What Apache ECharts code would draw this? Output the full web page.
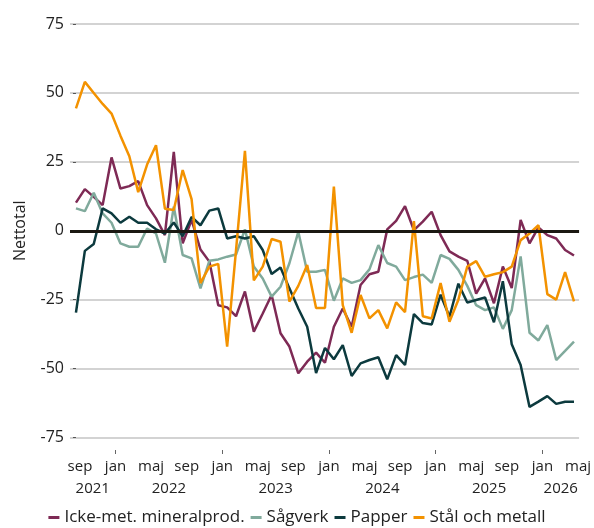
<!DOCTYPE html>
<html lang="sv">
<head>
<meta charset="UTF-8">
<title>Nettotal</title>
<script src="https://cdn.jsdelivr.net/npm/echarts@6/dist/echarts.min.js"></script>
<style>
    html, body { margin: 0; padding: 0; background: #fff; }
    #main { width: 594px; height: 528px; }
</style>
</head>
<body>
<div id="main"></div>
<script>
// manadsdata, sep 2021 - maj 2026
var monthNames = ['jan','feb','mar','apr','maj','jun','jul','aug','sep','okt','nov','dec'];
var firstYear = 2021, firstMonth = 8;
var seriesNames = ['Icke-met. mineralprod.', 'Sågverk', 'Papper', 'Stål och metall'];

var mineral = [10.2, 15.1, 12.3, 9.3, 26.6, 15.3, 16.2, 18, 9.3, 4.5, -1.6, 28.6, -4.6, 3.9, -6.8, -11.2, -27, -27.8, -31, -22,
    -36.6, -30, -23.3, -37.2, -42, -51.7, -47.5, -44.2, -47.9, -34.8, -28.2, -34.8, -19.7, -15.8, -14.9, 0.5, 3.6, 8.9, 0.2, 3.3,
    6.9, -1.6, -7.5, -9.4, -10.9, -22.8, -17.3, -26.3, -13, -20.8, 3.9, -4.6, 1.2, -1.6, -2.8, -7, -9];
var sagverk = [8.1, 7.1, 13.8, 6.3, 2.9, -4.6, -5.8, -5.8, 0.8, -1, -11.6, 8.7, -8.8, -10, -20.9, -10.9, -10.4, -9.4, -8.6, 0.5,
    -13, -17.3, -23.9, -20.3, -11.8, -0.4, -14.9, -14.9, -14.2, -25.4, -17.3, -18.9, -17.9, -14, -5.2, -11.7, -13, -17.9, -16.8, -15.9,
    -18.9, -8.8, -10.2, -14.2, -20, -27, -28.8, -27.8, -35.6, -28.8, -9.3, -37, -39.8, -34.2, -46.9, -43.6, -40.2];
var papper = [-29.7, -7.3, -4.8, 8.1, 6.3, 2.9, 5.1, 2.9, 2.9, 0.5, -1, 3, -2, 5, 2, 7.3, 8.1, -2.8, -2, -2.8,
    -2, -7, -15.7, -13.3, -20.9, -28.2, -34.8, -51.6, -42.5, -46.6, -41.5, -52.7, -48.1, -46.9, -45.9, -53.9, -45.1, -48.7, -30.2, -33.5,
    -34, -23.2, -31.2, -19.2, -26, -25.1, -24.2, -33.2, -18.3, -41.2, -48.7, -63.9, -62, -60, -62.8, -62, -62];
var stal = [44.4, 54, 50, 46, 42.5, 34.5, 27, 14, 24, 31, 8, 7.5, 22, 11.5, -19, -13, -12, -42, -7, 29,
    -18, -13, -3, -4, -25.7, -20, -12.4, -28, -28, 16, -27, -37, -23.3, -31.8, -28.8, -35.4, -26, -29.5, 3.5, -31,
    -31.8, -19, -33, -25, -13, -11, -16.7, -15.8, -15, -13, -3.4, -1, 2, -23, -25, -15, -25.6];

var colors = ['#7e2a55', '#80aa9c', '#0c3a3e', '#f39200'];
var fontName = 'Open Sans';

// x-axeln: manadsindex, etiketterna ligger en halv manad till hoger om punkterna
var xMin = -0.67, xMax = 56.57, tickShift = 0.45;
var months = mineral.map(function (v, i) {
    var m = firstMonth + i;
    return { name: monthNames[m % 12], year: firstYear + Math.floor(m / 12), mon: m % 12 };
});

var tickAt = [], tickText = {};
var janAt = [], yearAt = [], yearText = {};
months.forEach(function (m, i) {
    var p = i + tickShift;
    if (i % 4 === 0) {
        tickAt.push(p);
        tickText[p.toFixed(2)] = m.name;
    }
    if (m.mon === 0) janAt.push(p);
});
// arsetiketten i mitten av arets synliga del
var bounds = [xMin].concat(janAt).concat([xMax]);
for (var k = 0; k < bounds.length - 1; k++) {
    var mid = (bounds[k] + bounds[k + 1]) / 2;
    yearAt.push(mid);
    yearText[mid.toFixed(2)] = String(firstYear + k);
}

function toPairs(arr) {
    return arr.map(function (v, i) { return [i, v]; });
}

var chart = echarts.init(document.getElementById('main'));
var option = {
    animation: false,
    textStyle: { fontFamily: fontName },
    grid: { left: 70, right: 14, top: 24, bottom: 90.5 },
    legend: {
        top: 504,
        left: 'center',
        icon: 'rect',
        itemWidth: 11,
        itemHeight: 3,
        itemGap: 6,
        textStyle: { fontSize: 17, color: '#222', fontFamily: fontName },
        data: seriesNames
    },
    xAxis: [
        {
            type: 'value',
            min: xMin,
            max: xMax,
            position: 'bottom',
            offset: 12.5,
            axisLine: { show: false },
            splitLine: { show: false },
            axisTick: { show: true, length: 2, customValues: tickAt, lineStyle: { color: '#666' } },
            axisLabel: {
                customValues: tickAt,
                margin: 9,
                fontSize: 15,
                color: '#222',
                formatter: function (v) { return tickText[v.toFixed(2)] || ''; }
            }
        },
        {
            type: 'value',
            min: xMin,
            max: xMax,
            position: 'bottom',
            offset: 12.5,
            axisLine: { show: false },
            splitLine: { show: false },
            axisTick: { show: true, length: 4, customValues: janAt, lineStyle: { color: '#666' } },
            axisLabel: {
                customValues: yearAt,
                margin: 31,
                fontSize: 15,
                color: '#222',
                formatter: function (v) { return yearText[v.toFixed(2)] || ''; }
            }
        }
    ],
    yAxis: {
        type: 'value',
        min: -75,
        max: 75,
        interval: 25,
        name: 'Nettotal',
        nameLocation: 'middle',
        nameGap: 42,
        nameTextStyle: { fontSize: 16, color: '#222' },
        axisLine: { show: false },
        axisTick: { show: true, length: 3, lineStyle: { color: '#555' } },
        axisLabel: { fontSize: 16, color: '#222', margin: 6 },
        splitLine: { lineStyle: { color: '#c4c4c4', width: 1.5 } }
    },
    series: [
        { name: seriesNames[0], data: toPairs(mineral), color: colors[0] },
        { name: seriesNames[1], data: toPairs(sagverk), color: colors[1] },
        { name: seriesNames[2], data: toPairs(papper), color: colors[2] },
        { name: seriesNames[3], data: toPairs(stal), color: colors[3] }
    ].map(function (s, idx) {
        s.type = 'line';
        s.xAxisIndex = 0;
        s.showSymbol = false;
        s.lineStyle = { width: 2.5 };
        if (idx === 0) {
            s.markLine = {
                silent: true,
                symbol: ['none', 'none'],
                label: { show: false },
                lineStyle: { color: '#1b1812', width: 2.8, type: 'solid' },
                data: [{ yAxis: 0 }]
            };
        }
        return s;
    })
};
chart.setOption(option);
</script>
</body>
</html>
